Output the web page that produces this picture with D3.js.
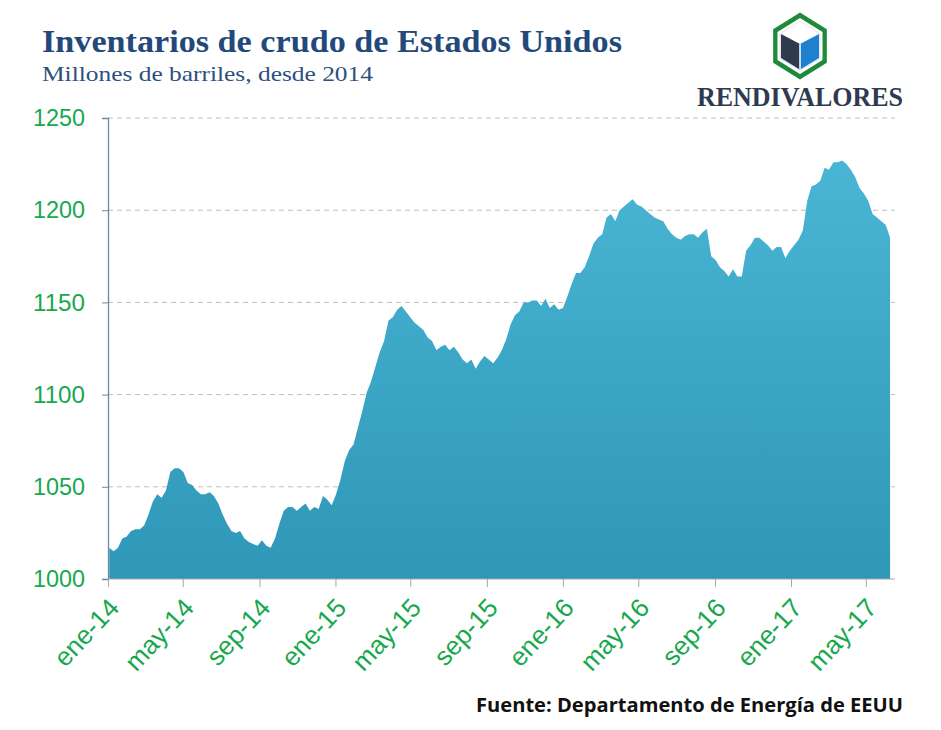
<!DOCTYPE html>
<html><head><meta charset="utf-8">
<script src="https://cdn.jsdelivr.net/npm/d3@7"></script>
<style>body{margin:0;background:#fff}svg{display:block}</style>
</head><body><svg id="c" width="941" height="730"></svg>
<script>
// Weekly US crude inventories (million barrels), first week ending 2014-01-03
const startDate = "2014-01-03";
const inventories = [
1017,1015,1017,1022,1023,1026,1027,1027,1029,1035,1042,1046,1044,1048,1058,1060,1060,1058,1052,1051,
1048,1046,1046,1047,1045,1041,1035,1030,1026,1025,1026,1022,1020,1019,1018,1021,1018,1017,1022,1030,
1037,1039,1039,1037,1039,1041,1037,1039,1038,1045,1043,1040,1046,1054,1064,1070,1073,1082,1091,1101,
1107,1115,1123,1129,1140,1142,1146,1148,1145,1142,1139,1137,1135,1131,1129,1124,1126,1127,1124,1126,
1123,1119,1117,1119,1114,1118,1121,1119,1117,1120,1124,1130,1138,1143,1145,1150,1150,1151,1151,1148,
1152,1147,1149,1146,1147,1153,1160,1166,1166,1169,1175,1182,1185,1187,1196,1198,1194,1200,1202,1204,
1206,1203,1202,1200,1198,1196,1195,1194,1190,1187,1185,1184,1186,1187,1187,1185,1188,1190,1175,1173,
1169,1167,1164,1168,1164,1164,1178,1181,1185,1185,1183,1181,1178,1180,1180,1174,1178,1181,1184,1189,
1205,1213,1214,1216,1223,1222,1226,1226,1227,1225,1222,1218,1212,1209,1205,1198,1196,1194,1192,1185
];
const yTicks = [1000,1050,1100,1150,1200,1250];
const xTickDates = ["2014-01-01","2014-05-01","2014-09-01","2015-01-01","2015-05-01","2015-09-01","2016-01-01","2016-05-01","2016-09-01","2017-01-01","2017-05-01"];
const xTickLabels = ["ene-14","may-14","sep-14","ene-15","may-15","sep-15","ene-16","may-16","sep-16","ene-17","may-17"];
const title = "Inventarios de crudo de Estados Unidos";
const subtitle = "Millones de barriles, desde 2014";
const source = "Fuente: Departamento de Energía de EEUU";
const brand = "RENDIVALORES";

const parse = d3.utcParse("%Y-%m-%d");
const t0 = parse(startDate);
const data = inventories.map((v,i)=>({date:d3.utcDay.offset(t0, 7*i), value:v}));

const svg = d3.select("#c");
const x = d3.scaleUtc().domain([parse("2014-01-01"), parse("2017-01-01")]).range([108, 791]);
const y = d3.scaleLinear().domain([1000,1250]).range([579,118]);

const defs = svg.append("defs");
const g = defs.append("linearGradient").attr("id","gr").attr("gradientUnits","userSpaceOnUse")
  .attr("x1",0).attr("x2",0).attr("y1",y(1250)).attr("y2",y(1000));
g.append("stop").attr("offset","0%").attr("stop-color","#4cb8d7");
g.append("stop").attr("offset","100%").attr("stop-color","#2f97b8");

// grid
svg.append("g").selectAll("line").data(yTicks.filter(d=>d>1000)).join("line")
  .attr("x1",108).attr("x2",895).attr("y1",d=>y(d)).attr("y2",d=>y(d))
  .attr("stroke","#bdbdbd").attr("stroke-width",1).attr("stroke-dasharray","5,4");

// area
const area = d3.area().x(d=>x(d.date)).y0(y(1000)).y1(d=>y(d.value));
svg.append("path").datum(data).attr("d",area).attr("fill","url(#gr)");

// y axis
const ya = svg.append("g").attr("transform","translate(108,0)")
  .call(d3.axisLeft(y).tickValues(yTicks).tickSize(6).tickPadding(17).tickFormat(d3.format("d")));
ya.select(".domain").attr("stroke","#6f87a8").attr("stroke-width",1.3);
ya.selectAll(".tick line").attr("stroke","#6f87a8");
ya.selectAll("text").attr("fill","#17a84e").attr("font-family","Liberation Sans, Arial, sans-serif").attr("font-size",24)
  .attr("textLength",52).attr("lengthAdjust","spacingAndGlyphs");

// x axis
const xa = svg.append("g").attr("transform","translate(0,579)")
  .call(d3.axisBottom(x).tickValues(xTickDates.map(parse)).tickSize(8)
    .tickFormat((d,i)=>xTickLabels[i]));
xa.select(".domain").attr("stroke","#a6a6a6").attr("d","M108,0H895");
xa.selectAll(".tick line").attr("stroke","#a6a6a6");
xa.selectAll("text").attr("fill","#17a84e").attr("font-family","Liberation Sans, Arial, sans-serif").attr("font-size",26)
  .attr("text-anchor","end").attr("dy",0).attr("y",0)
  .attr("transform","translate(12,30) rotate(-47)");

// titles
svg.append("text").attr("x",42).attr("y",52).text(title)
  .attr("font-family","Liberation Serif, serif").attr("font-weight","bold").attr("font-size",31)
  .attr("fill","#23497a").attr("textLength",580).attr("lengthAdjust","spacingAndGlyphs");
svg.append("text").attr("x",42).attr("y",81).text(subtitle)
  .attr("font-family","Liberation Serif, serif").attr("font-size",21)
  .attr("fill","#2c4f7e").attr("textLength",331).attr("lengthAdjust","spacingAndGlyphs");

// source
svg.append("text").attr("x",903).attr("y",712).attr("text-anchor","end").text(source)
  .attr("font-family","Open Sans, Liberation Sans, sans-serif").attr("font-weight","bold").attr("font-size",19)
  .attr("fill","#111").attr("textLength",427).attr("lengthAdjust","spacingAndGlyphs");

// logo
const lg = svg.append("g").attr("transform","translate(800,46)");
const hex = (r)=>d3.range(6).map(k=>{const a=Math.PI/180*(60*k-90);return [r*Math.cos(a),r*1.08*Math.sin(a)];});
lg.append("polygon").attr("points",hex(31).map(p=>p.join(",")).join(" ")).attr("fill","#1f8a3c");
lg.append("polygon").attr("points",hex(26).map(p=>p.join(",")).join(" ")).attr("fill","#fff");
lg.append("polygon").attr("points",hex(23).map(p=>p.join(",")).join(" ")).attr("fill","#fff").attr("stroke","#e6e6e6");
const cr=22, h=cr*1.08;
lg.append("polygon").attr("points",[[0,-2],[-cr*0.866,-h*0.5],[-cr*0.866,h*0.5],[0,h]].map(p=>p.join(",")).join(" ")).attr("fill","#2f3a4e");
lg.append("polygon").attr("points",[[0,-2],[cr*0.866,-h*0.5],[cr*0.866,h*0.5],[0,h]].map(p=>p.join(",")).join(" ")).attr("fill","#1d80d0");
lg.append("line").attr("x1",0).attr("x2",0).attr("y1",-2).attr("y2",h).attr("stroke","#fff").attr("stroke-width",1.5);
svg.append("text").attr("x",697).attr("y",106).text(brand)
  .attr("font-family","Liberation Serif, serif").attr("font-weight","bold").attr("font-size",27)
  .attr("fill","#2e3a4f").attr("textLength",206).attr("lengthAdjust","spacingAndGlyphs");
</script></body></html>
